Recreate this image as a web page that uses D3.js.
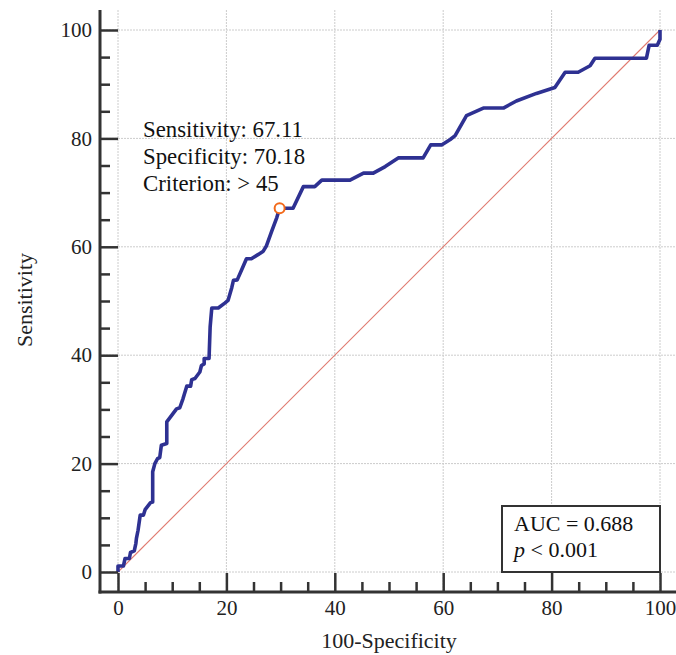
<!DOCTYPE html>
<html>
<head>
<meta charset="utf-8">
<script src="https://cdn.jsdelivr.net/npm/d3@7"></script>
<style>
  html, body { margin: 0; padding: 0; background: #fff; }
  svg { display: block; font-family: "Liberation Serif", "Times New Roman", serif; }
</style>
</head>
<body>
<svg id="chart" width="676" height="655"></svg>
<script>
// ROC curve points (100-Specificity, Sensitivity)
const fpr = [0, 0, 1.0, 1.3, 2.1, 2.3, 3.0, 3.3, 3.4, 3.7, 4.1, 4.7, 5.0, 6.0, 6.4, 6.4, 6.8, 7.3, 7.7, 8.0,
  9.0, 9.0, 9.9, 10.8, 11.4, 12.0, 12.7, 13.4, 13.6, 14.2, 15.1, 15.4, 15.9, 15.9, 16.8, 17.0, 17.3, 18.5,
  19.7, 20.3, 21.0, 21.3, 22.0, 22.8, 23.7, 24.6, 25.9, 26.8, 27.4, 28.4, 29.3, 29.82, 32.3, 34.2, 36.3,
  37.6, 42.8, 45.3, 47.1, 49.3, 51.7, 56.3, 57.7, 59.7, 61.3, 62.2, 64.3, 67.4, 71.1, 73.5, 77.2, 80.6,
  82.5, 84.9, 87.1, 88.0, 97.5, 98.0, 99.5, 100, 100];
const tpr = [0, 1.1, 1.1, 2.5, 2.5, 3.6, 3.9, 5.3, 6.2, 7.7, 10.5, 10.5, 11.5, 12.8, 12.9, 18.5, 20.0, 20.9, 21.1, 23.4,
  23.7, 27.7, 28.9, 30.1, 30.3, 32.0, 34.3, 34.3, 35.5, 35.7, 36.9, 38.1, 38.4, 39.4, 39.4, 45.2, 48.7, 48.7,
  49.6, 50.1, 52.5, 53.8, 53.9, 55.7, 57.8, 57.8, 58.6, 59.2, 60.2, 63.0, 65.4, 67.11, 67.11, 71.1, 71.1,
  72.3, 72.3, 73.6, 73.6, 74.8, 76.4, 76.4, 78.8, 78.8, 79.8, 80.5, 84.2, 85.6, 85.6, 86.9, 88.3, 89.4,
  92.2, 92.2, 93.4, 94.8, 94.8, 97.2, 97.2, 98.3, 100];

// optimal criterion point
const cutFpr = 100 - 70.18;
const cutTpr = 67.11;
const cutLines = ['Sensitivity: 67.11', 'Specificity: 70.18', 'Criterion: > 45'];

const majorTicks = [0, 20, 40, 60, 80, 100];
const minorTicks = d3.range(0, 101, 5).filter(v => v % 20 !== 0);

const svg = d3.select('#chart');
const x = d3.scaleLinear().domain([0, 100]).range([118, 660]);
const y = d3.scaleLinear().domain([0, 100]).range([572, 30]);

const axisX = 100, axisY = 592, plotTop = 10, plotRight = 676;

// grid
const grid = svg.append('g').attr('stroke', '#cccccc').attr('stroke-width', 1).attr('stroke-dasharray', '2,1');
grid.selectAll('.gx').data(majorTicks).join('line')
  .attr('x1', d => x(d)).attr('x2', d => x(d)).attr('y1', plotTop).attr('y2', axisY);
grid.selectAll('.gy').data(majorTicks).join('line')
  .attr('y1', d => y(d)).attr('y2', d => y(d)).attr('x1', axisX).attr('x2', plotRight);

// reference diagonal
svg.append('line')
  .attr('x1', x(0)).attr('y1', y(0)).attr('x2', x(100)).attr('y2', y(100))
  .attr('stroke', '#e07a70').attr('stroke-width', 1.1);

// ROC curve
const pts = fpr.map((v, i) => [v, tpr[i]]);
svg.append('path')
  .datum(pts)
  .attr('d', d3.line().x(d => x(d[0])).y(d => y(d[1])))
  .attr('fill', 'none')
  .attr('stroke', '#2e3192')
  .attr('stroke-width', 3.6)
  .attr('stroke-linejoin', 'round');

svg.append('circle')
  .attr('cx', x(cutFpr)).attr('cy', y(cutTpr)).attr('r', 5)
  .attr('fill', '#fff').attr('stroke', '#f26a1b').attr('stroke-width', 2);

svg.append('g').selectAll('text').data(cutLines).join('text')
  .attr('x', 143).attr('y', (d, i) => 137 + i * 27)
  .attr('font-size', 22.8).attr('fill', '#111')
  .text(d => d);

// axes (ticks point inward)
const styleAxis = g => {
  g.select('.domain').remove();
  g.selectAll('line').attr('stroke', '#333').attr('stroke-width', 2.5);
  g.selectAll('text').attr('font-family', '"Liberation Serif", "Times New Roman", serif')
    .attr('font-size', 21).attr('fill', '#222');
};
svg.append('g').attr('transform', `translate(0,${axisY})`)
  .call(d3.axisBottom(x).tickValues(majorTicks).tickSize(-19).tickPadding(8))
  .call(styleAxis);
svg.append('g').attr('transform', `translate(0,${axisY})`)
  .call(d3.axisBottom(x).tickValues(minorTicks).tickSize(-10).tickFormat(''))
  .call(styleAxis);
svg.append('g').attr('transform', `translate(${axisX},0)`)
  .call(d3.axisLeft(y).tickValues(majorTicks).tickSize(-18).tickPadding(8))
  .call(styleAxis);
svg.append('g').attr('transform', `translate(${axisX},0)`)
  .call(d3.axisLeft(y).tickValues(minorTicks).tickSize(-10).tickFormat(''))
  .call(styleAxis);

svg.append('line').attr('x1', axisX).attr('x2', axisX).attr('y1', plotTop).attr('y2', axisY + 1.5)
  .attr('stroke', '#333').attr('stroke-width', 3);
svg.append('line').attr('x1', axisX - 1.5).attr('x2', plotRight).attr('y1', axisY).attr('y2', axisY)
  .attr('stroke', '#333').attr('stroke-width', 3);

// axis titles
svg.append('text').attr('x', 389).attr('y', 648).attr('text-anchor', 'middle')
  .attr('font-size', 22).attr('fill', '#222').text('100-Specificity');
svg.append('text').attr('transform', 'translate(32,300) rotate(-90)').attr('text-anchor', 'middle')
  .attr('font-size', 22).attr('fill', '#222').text('Sensitivity');

// AUC box
const box = svg.append('g');
box.append('rect').attr('x', 502).attr('y', 506).attr('width', x(100) - 502).attr('height', y(0) - 506)
  .attr('fill', '#fff').attr('stroke', '#333').attr('stroke-width', 2);
box.append('text').attr('x', 514).attr('y', 531).attr('font-size', 22).attr('fill', '#111').text('AUC = 0.688');
const pt = box.append('text').attr('x', 514).attr('y', 557).attr('font-size', 22).attr('fill', '#111');
pt.append('tspan').attr('font-style', 'italic').text('p');
pt.append('tspan').text(' < 0.001');
</script>
</body>
</html>
